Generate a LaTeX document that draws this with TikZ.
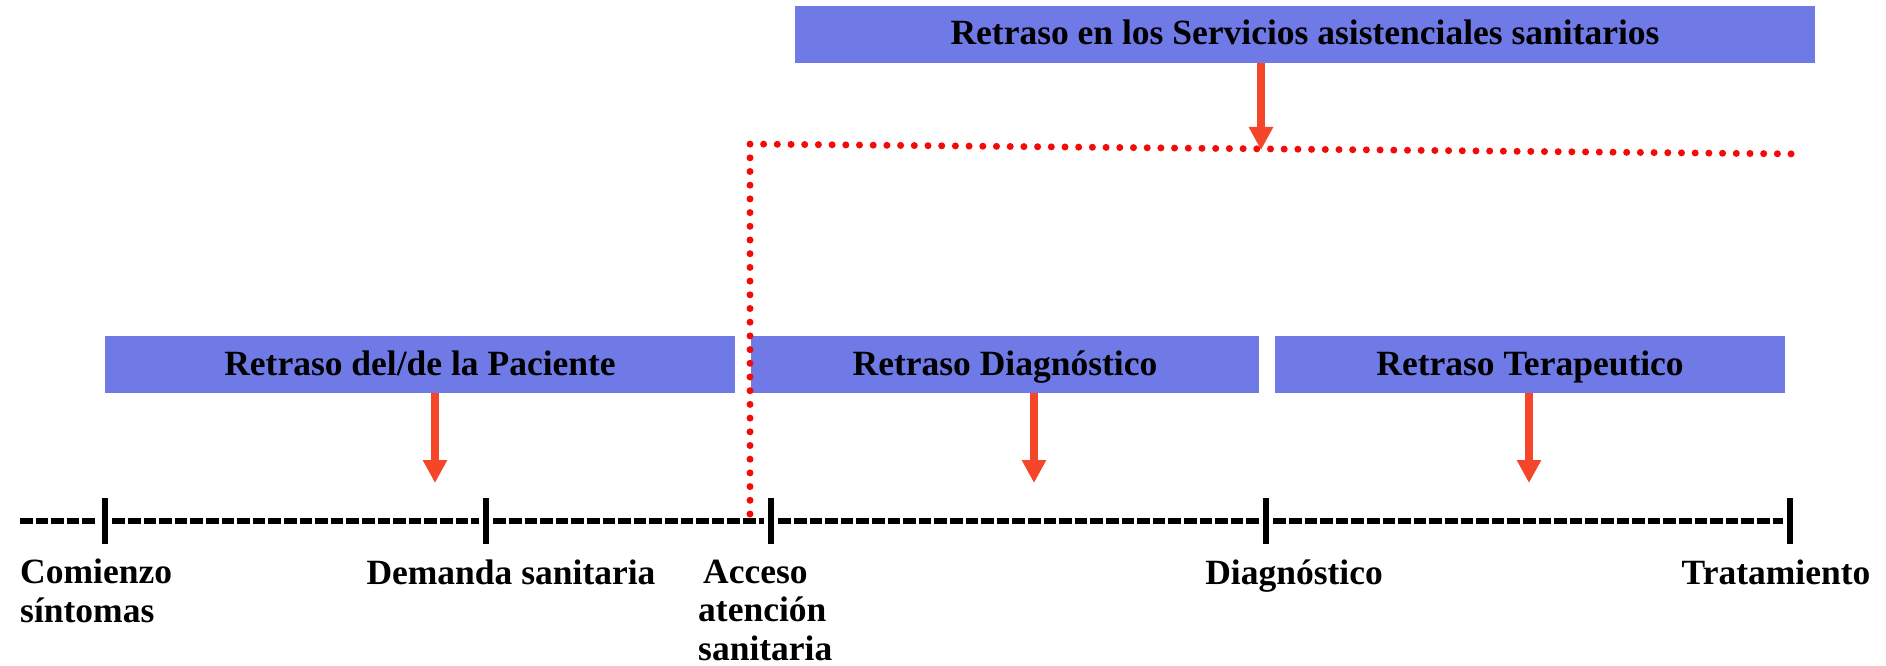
\documentclass[tikz,border=0pt]{standalone}
\usepackage{fontspec}
\setmainfont{Liberation Serif}
\usetikzlibrary{arrows.meta}
\definecolor{boxblue}{RGB}{112,122,230}
\definecolor{arrred}{RGB}{245,70,42}
\definecolor{dotred}{RGB}{245,10,10}
\tikzset{
  delaybox/.style={fill=boxblue, minimum height=57pt, inner sep=0pt, text height=25pt, text depth=4pt, font=\bfseries\fontsize{35.5}{38.5}\selectfont},
  redarrow/.style={draw=arrred, line width=8pt, -{Triangle[width=23pt,length=23pt]}},
  dotline/.style={draw=dotred, line width=7pt, line cap=round, dash pattern=on 0pt off 13.7pt},
  tickmark/.style={fill=black, minimum width=6.5pt, minimum height=46pt, inner sep=0pt},
  timeline/.style={draw=black, line width=5.3pt, dash pattern=on 12.5pt off 3.1pt},
  lbl/.style={inner sep=0pt, font=\bfseries\fontsize{35.5}{38.5}\selectfont}
}
\begin{document}
\begin{tikzpicture}[x=1pt,y=-1pt]
\useasboundingbox (0,0) rectangle (1886,666);
% boxes
\node[delaybox, minimum width=1020pt] (top) at (1305,34.5) {Retraso en los Servicios asistenciales sanitarios};
\node[delaybox, minimum width=630pt] (pac) at (420,364.5) {Retraso del/de la Paciente};
\node[delaybox, minimum width=508pt] (diag) at (1005,364.5) {Retraso Diagnóstico};
\node[delaybox, minimum width=510pt] (ter) at (1530,364.5) {Retraso Terapeutico};
% timeline
\coordinate (t0) at (20,521);
\node[tickmark] (k1) at (105,521) {};
\node[tickmark] (k2) at (486,521) {};
\node[tickmark] (k3) at (771,521) {};
\node[tickmark] (k4) at (1266,521) {};
\node[tickmark] (k5) at (1790,521) {};
\draw[timeline, shorten >=4pt] (t0) -- (k1);
\draw[timeline, shorten <=4pt, shorten >=4pt] (k1) -- (k2);
\draw[timeline, shorten <=4pt, shorten >=4pt] (k2) -- (k3);
\draw[timeline, shorten <=4pt, shorten >=4pt] (k3) -- (k4);
\draw[timeline, shorten <=4pt, shorten >=4pt] (k4) -- (k5);
% dotted line
\coordinate (d0) at (750,514);
\coordinate (d1) at (750,144);
\coordinate (d2) at (1802,154);
\draw[dotline] (d0) -- (d1) -- (d2);
% arrows
\coordinate (a0) at (1261,150);
\coordinate (a1) at (435,483);
\coordinate (a2) at (1034,483);
\coordinate (a3) at (1529,483);
\draw[redarrow] (a0 |- top.south) -- (a0);
\draw[redarrow] (a1 |- pac.south) -- (a1);
\draw[redarrow] (a2 |- diag.south) -- (a2);
\draw[redarrow] (a3 |- ter.south) -- (a3);
% labels (base anchor of a multi-line node is the last line)
\node[lbl, anchor=base west, align=left] (l1) at (20,622) {Comienzo\\síntomas};
\node[lbl, anchor=base] (l2) at (511,584) {Demanda sanitaria};
\node[lbl, anchor=base west, align=left] (l3) at (698,660) {\hspace{5pt}Acceso\\atención\\sanitaria};
\node[lbl, anchor=base] (l4) at (1294,584) {Diagnóstico};
\node[lbl, anchor=base] (l5) at (1776,584) {Tratamiento};
\end{tikzpicture}
\end{document}
